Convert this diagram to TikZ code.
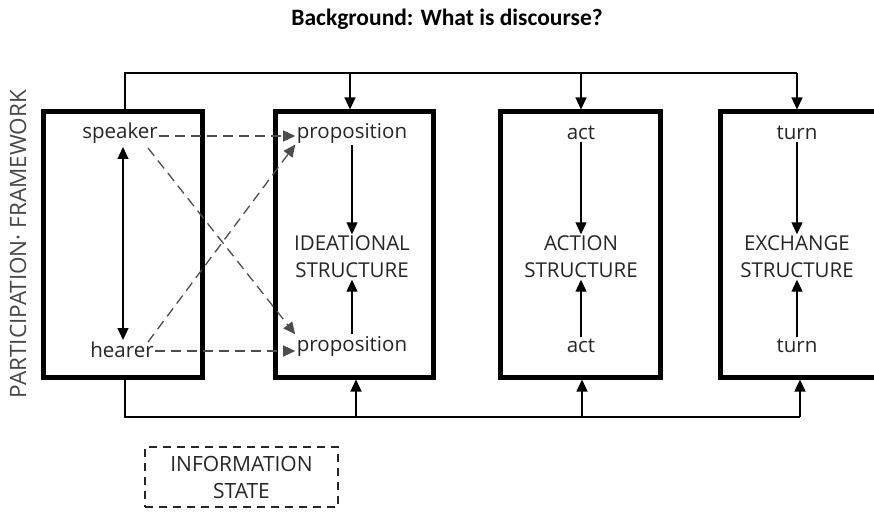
\documentclass[tikz,border=0pt]{standalone}
\usepackage{fontspec}
\setmainfont{Open Sans}
\newfontfamily\headfont{Carlito}
\usetikzlibrary{arrows.meta}
\definecolor{ink}{HTML}{262626}
\definecolor{dash}{HTML}{4D4D4D}
\begin{document}
\begin{tikzpicture}[x=1pt,y=-1pt,
  frame/.style={draw=black,line width=5pt,minimum height=265pt,inner sep=0pt},
  lbl/.style={text=ink,font=\fontsize{20.5}{24}\selectfont,inner sep=1.5pt},
  stack/.style={lbl,align=center,font=\fontsize{20.5}{27}\selectfont},
  link/.style={line width=1.3pt,-{Triangle[length=12pt,width=11pt]}},
  dlink/.style={link,draw=dash,dash pattern=on 10pt off 6pt},
  feed/.style={line width=1.3pt}]
\useasboundingbox (0,0) rectangle (874,513);

% title
\node (title) at (447,19) {\headfont\bfseries\fontsize{23.5}{26}\selectfont Background: What is discourse?};

% side label
\node[rotate=90,text=ink!85,font=\fontsize{22.5}{26}\selectfont] (pf) at (18,244) {PARTICIPATION· FRAMEWORK};

% the four frames
\node[frame,minimum width=159pt] (part) at (122.5,244.5) {};
\node[frame,minimum width=158pt] (idea) at (354,244.5) {};
\node[frame,minimum width=160pt] (act) at (580,244.5) {};
\node[frame,minimum width=160pt] (exch) at (800,244.5) {};

% participants
\node[lbl] (spk) at (120,133) {speaker};
\node[lbl] (hr) at (122,350) {hearer};
\draw[line width=1.3pt,{Triangle[length=12pt,width=11pt]}-{Triangle[length=12pt,width=11pt]}] (123,147) -- (123,340);

% ideational structure
\node[lbl] (pa) at (352,133) {proposition};
\node[lbl] (pb) at (352,346) {proposition};
\node[stack] (is) at (352,257) {IDEATIONAL\\STRUCTURE};
\draw[link] (pa.south -| 352,0) -- (is.north -| 352,0);
\draw[link] (pb.north -| 352,0) -- (is.south -| 352,0);

% action structure
\node[lbl] (aa) at (581,133) {act};
\node[lbl] (ab) at (581,346) {act};
\node[stack] (as) at (581,257) {ACTION\\STRUCTURE};
\draw[link] (aa) -- (as);
\draw[link] (ab) -- (as);

% exchange structure
\node[lbl] (ta) at (797,133) {turn};
\node[lbl] (tb) at (797,346) {turn};
\node[stack] (es) at (797,257) {EXCHANGE\\STRUCTURE};
\draw[link] (ta) -- (es);
\draw[link] (tb) -- (es);

% participants to propositions
\draw[dlink] (spk.east |- 0,136) -- (pa.west |- 0,136);
\draw[dlink] (hr.east |- 0,351) -- (pb.west |- 0,351);
\draw[dlink] (148,148) -- (pb.north west);
\draw[dlink] (148,342) -- (pa.south west);

% feed from the top
\coordinate (t0) at (125,73);
\coordinate (t3) at (797,73);
\draw[feed] (part.north -| t0) -- (t0) -- (t3);
\draw[link] (350,73) -- (idea.north -| 350,0);
\draw[link] (581,73) -- (act.north -| 581,0);
\draw[link] (t3) -- (exch.north -| t3);

% feed from the bottom
\coordinate (b0) at (125,417);
\coordinate (b3) at (800,417);
\draw[feed] (part.south -| b0) -- (b0) -- (b3);
\draw[link] (356,417) -- (idea.south -| 356,0);
\draw[link] (582,417) -- (act.south -| 582,0);
\draw[link] (b3) -- (exch.south -| b3);

% information state
\node[draw=ink,line width=1.3pt,dash pattern=on 8pt off 6pt,text=ink,align=center,
  font=\fontsize{21}{27}\selectfont,minimum width=193pt,minimum height=60pt] (info) at (241.5,477) {INFORMATION\\STATE};
\end{tikzpicture}
\end{document}
